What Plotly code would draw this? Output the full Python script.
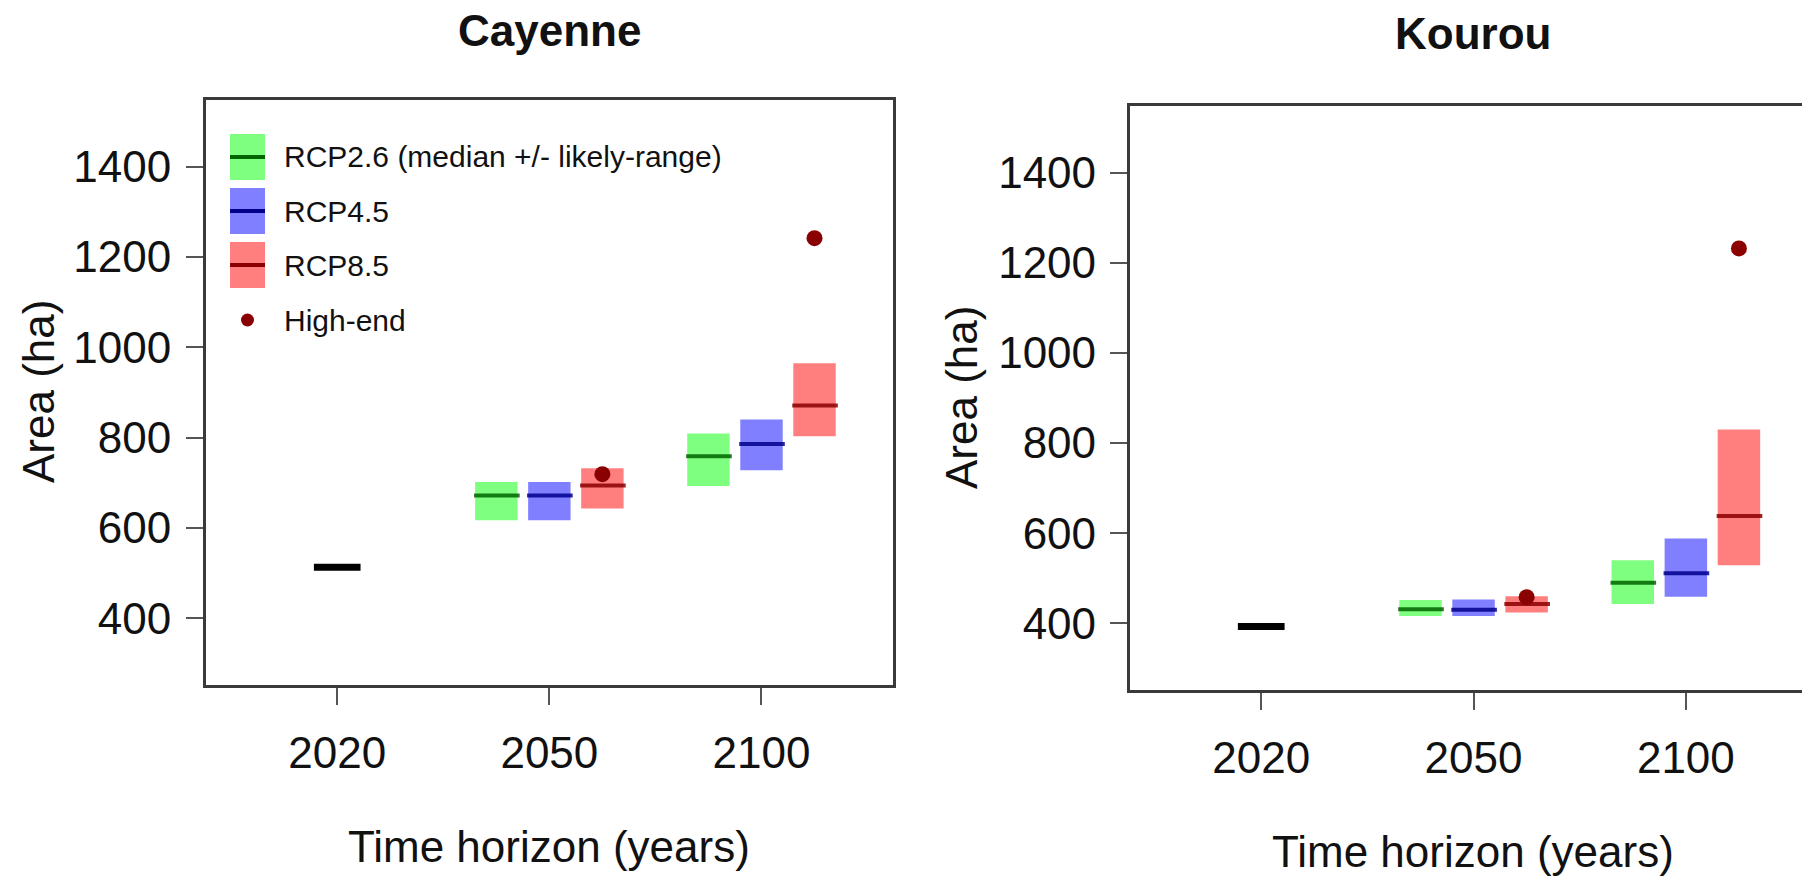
import plotly.graph_objects as go

# ---- data -------------------------------------------------------------
horizons = ["2020", "2050", "2100"]
scenarios = ["RCP2.6", "RCP4.5", "RCP8.5"]

# Cayenne: area (ha); projections for 2050 and 2100, rows = scenarios
cay_2020 = 513
cay_median = [[672, 759], [672, 786], [694, 871]]
cay_low = [[617, 693], [617, 728], [643, 803]]
cay_high = [[702, 809], [702, 840], [732, 965]]
cay_highend = [719, 1242]

# Kourou
kou_2020 = 393
kou_median = [[431, 490], [430, 511], [443, 638]]
kou_low = [[416, 443], [416, 459], [424, 529]]
kou_high = [[452, 540], [453, 588], [460, 830]]
kou_highend = [458, 1232]

y_ticks = [400, 600, 800, 1000, 1200, 1400]

# ---- styling ----------------------------------------------------------
W, H = 1802, 876
FONT = "Arial, Liberation Sans, sans-serif"
fills = ["rgba(0,255,0,0.5)", "rgba(0,0,255,0.5)", "rgba(255,0,0,0.5)"]
mcols = ["#006400", "#00008B", "#8B0000"]
offsets = [-0.25, 0.0, 0.25]
box_w = 0.2
dot_col = "#8B0000"


def px(x):
    return x / W


def py(y):
    return 1 - y / H


fig = go.Figure()


def add_panel(xa, ya, base_val, median, low, high, highend):
    # baseline (2020)
    fig.add_trace(go.Scatter(
        x=[1 - 0.11, 1 + 0.11], y=[base_val, base_val], mode="lines",
        line=dict(color="black", width=7), xaxis=xa, yaxis=ya,
        showlegend=False, hoverinfo="skip"))
    # likely ranges
    for s in range(len(scenarios)):
        xs = [2 + offsets[s], 3 + offsets[s]]
        fig.add_trace(go.Bar(
            x=xs, base=low[s], y=[h - l for h, l in zip(high[s], low[s])],
            width=box_w, marker=dict(color=fills[s], line=dict(width=0)),
            xaxis=xa, yaxis=ya, showlegend=False, hoverinfo="skip"))
    # medians
    for s in range(len(scenarios)):
        lx, ly = [], []
        for j, c in enumerate([2, 3]):
            xc = c + offsets[s]
            lx += [xc - box_w / 2 - 0.005, xc + box_w / 2 + 0.01, None]
            ly += [median[s][j], median[s][j], None]
        fig.add_trace(go.Scatter(
            x=lx, y=ly, mode="lines", line=dict(color=mcols[s], width=4),
            xaxis=xa, yaxis=ya, showlegend=False, hoverinfo="skip",
            connectgaps=False, opacity=0.85))
    # high-end scenario
    fig.add_trace(go.Scatter(
        x=[2 + offsets[2], 3 + offsets[2]], y=highend, mode="markers",
        marker=dict(color=dot_col, size=16, line=dict(width=0)),
        xaxis=xa, yaxis=ya, showlegend=False, hoverinfo="skip"))


add_panel("x", "y", cay_2020, cay_median, cay_low, cay_high, cay_highend)
add_panel("x2", "y2", kou_2020, kou_median, kou_low, kou_high, kou_highend)

axis_common = dict(
    showgrid=False, zeroline=False, showline=True, linecolor="#3a3a3a",
    linewidth=2.5, ticks="outside", ticklen=17, tickwidth=2,
    tickcolor="#555555", tickfont=dict(family=FONT, size=44, color="#111111"),
)

x_cay = dict(axis_common, domain=[px(205.7), px(893)], range=[0.38, 3.62],
             tickvals=[1, 2, 3], ticktext=horizons, mirror=True,
             ticklabelstandoff=10, anchor="y")
y_cay = dict(axis_common, domain=[py(685), py(100)], range=[252, 1548],
             tickvals=y_ticks, mirror=True, ticklabelstandoff=6, anchor="x")
x_kou = dict(axis_common, domain=[px(1129.6), 1.0], range=[0.38, 3.547],
             tickvals=[1, 2, 3], ticktext=horizons, mirror=True,
             ticklabelstandoff=10, anchor="y2")
y_kou = dict(axis_common, domain=[py(690), py(106)], range=[252, 1548],
             tickvals=y_ticks, mirror=False, ticklabelstandoff=5, anchor="x2")

annotations = []


def text(x, y, s, size=44, bold=False, angle=0, xanchor="center"):
    annotations.append(dict(
        x=px(x), y=py(y), xref="paper", yref="paper", showarrow=False,
        text=f"<b>{s}</b>" if bold else s, textangle=angle,
        xanchor=xanchor, yanchor="middle",
        font=dict(family=FONT, size=size, color="#111111")))


# titles and axis titles
text(549, 31, "Cayenne", size=44, bold=True)
text(1473, 34, "Kourou", size=44, bold=True)
text(549, 846, "Time horizon (years)")
text(1473, 851, "Time horizon (years)")
text(38, 392, "Area (ha)", angle=-90)
text(961, 398, "Area (ha)", angle=-90)

# legend (top-left of the Cayenne panel)
shapes = []
leg_rows = [157, 211, 265]
leg_labels = ["RCP2.6 (median +/- likely-range)", "RCP4.5", "RCP8.5"]
for i, yc in enumerate(leg_rows):
    shapes.append(dict(type="rect", xref="paper", yref="paper",
                       x0=px(230), x1=px(265), y0=py(yc + 23), y1=py(yc - 23),
                       fillcolor=fills[i], line=dict(width=0)))
    shapes.append(dict(type="line", xref="paper", yref="paper",
                       x0=px(230), x1=px(265), y0=py(yc), y1=py(yc),
                       line=dict(color=mcols[i], width=4)))
    text(282, yc, leg_labels[i], size=30, xanchor="left")
shapes.append(dict(type="circle", xref="paper", yref="paper",
                   x0=px(241), x1=px(254), y0=py(326.5), y1=py(313.5),
                   fillcolor=dot_col, line=dict(width=0)))
text(282, 320, "High-end", size=30, xanchor="left")

fig.update_layout(
    width=W, height=H, margin=dict(l=0, r=0, t=0, b=0),
    paper_bgcolor="white", plot_bgcolor="white", barmode="overlay",
    xaxis=x_cay, yaxis=y_cay, xaxis2=x_kou, yaxis2=y_kou,
    annotations=annotations, shapes=shapes, showlegend=False,
)

fig.write_html("out.html")
